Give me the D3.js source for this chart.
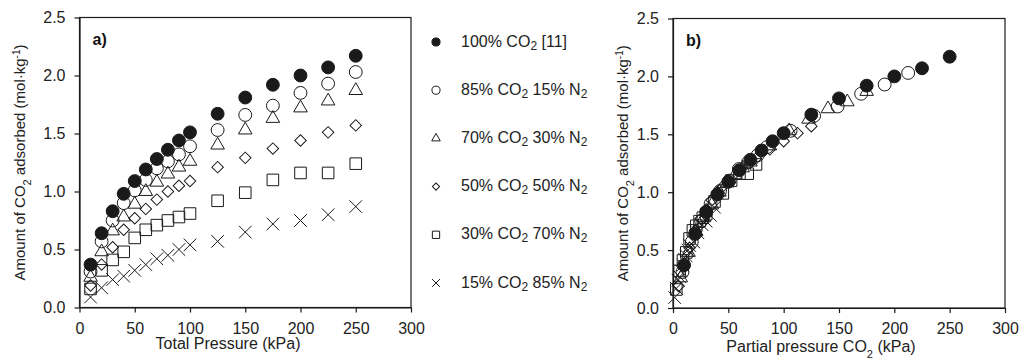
<!DOCTYPE html>
<html>
<head>
<meta charset="utf-8">
<script src="https://cdn.jsdelivr.net/npm/d3@7"></script>
<style>
  body { margin: 0; background: #fff; }
  svg { display: block; font-family: "Liberation Sans", Arial, sans-serif; }
  .axis text { font-size: 16px; fill: #222; }
  .axis path, .axis line { stroke: #1a1a1a; stroke-width: 1.2; }
</style>
</head>
<body>
<div id="chart"></div>
<script>
// Data
const pressure = [10, 20, 30, 40, 50, 60, 70, 80, 90, 100, 125, 150, 175, 200, 225, 250];
const co2Fraction = [1.00, 0.85, 0.70, 0.50, 0.30, 0.15];
const uptake100 = [0.37, 0.64, 0.83, 0.98, 1.09, 1.19, 1.28, 1.36, 1.44, 1.51, 1.67, 1.81, 1.92, 2.00, 2.07, 2.17];
const uptake85 = [0.31, 0.57, 0.75, 0.90, 1.01, 1.10, 1.20, 1.26, 1.32, 1.39, 1.53, 1.66, 1.74, 1.85, 1.93, 2.03];
const uptake70 = [0.26, 0.48, 0.66, 0.78, 0.89, 1.00, 1.08, 1.15, 1.21, 1.26, 1.40, 1.53, 1.63, 1.72, 1.78, 1.87];
const uptake50 = [0.19, 0.37, 0.52, 0.67, 0.77, 0.85, 0.93, 1.00, 1.05, 1.09, 1.21, 1.29, 1.37, 1.44, 1.51, 1.57];
const uptake30 = [0.16, 0.32, 0.41, 0.48, 0.60, 0.67, 0.71, 0.75, 0.78, 0.81, 0.92, 0.99, 1.10, 1.16, 1.16, 1.24];
const uptake15 = [0.09, 0.17, 0.24, 0.27, 0.32, 0.37, 0.42, 0.45, 0.50, 0.54, 0.57, 0.65, 0.72, 0.75, 0.80, 0.87];
const seriesValues = [uptake100, uptake85, uptake70, uptake50, uptake30, uptake15];
const legendLabels = [
    ['100% CO', '2', ' [11]', ''],
    ['85% CO', '2', ' 15% N', '2'],
    ['70% CO', '2', ' 30% N', '2'],
    ['50% CO', '2', ' 50% N', '2'],
    ['30% CO', '2', ' 70% N', '2'],
    ['15% CO', '2', ' 85% N', '2']
];
const markerKinds = ['filled', 'circle', 'triangle', 'diamond', 'square', 'cross'];
const xTicks = [0, 50, 100, 150, 200, 250, 300];
const yTicks = [0, 0.5, 1.0, 1.5, 2.0, 2.5];

const width = 1022, height = 363;
const ink = '#1a1a1a';

const svg = d3.select('#chart').append('svg')
    .attr('width', width)
    .attr('height', height);

// marker path for a given kind, scaled by k
function markerPath(kind, k) {
    const s = k || 1;
    if (kind === 'filled' || kind === 'circle') return d3.symbol(d3.symbolCircle, 130 * s * s)();
    if (kind === 'triangle') return d3.symbol(d3.symbolTriangle, 80 * s * s)();
    if (kind === 'diamond') return d3.symbol(d3.symbolSquare, 66 * s * s)();
    if (kind === 'square') return d3.symbol(d3.symbolSquare, 134 * s * s)();
    return d3.symbol(d3.symbolTimes, 105 * s * s)();
}

function drawMarkers(g, pts, kind, k) {
    g.selectAll(null)
        .data(pts)
        .enter()
        .append('path')
        .attr('d', markerPath(kind, k))
        .attr('transform', d => `translate(${d[0]},${d[1]})` + (kind === 'diamond' ? ' rotate(45)' : ''))
        .attr('fill', kind === 'filled' ? ink : 'none')
        .attr('stroke', ink)
        .attr('stroke-width', 1);
}

function drawPanel(cfg) {
    const x = d3.scaleLinear().domain([0, 300]).range([cfg.left, cfg.right]);
    const y = d3.scaleLinear().domain([0, 2.5]).range([cfg.bottom, cfg.top]);

    svg.append('g')
        .attr('class', 'axis')
        .attr('transform', `translate(0,${cfg.bottom})`)
        .call(d3.axisBottom(x).tickValues(xTicks).tickSize(5).tickSizeOuter(0).tickPadding(10));

    svg.append('g')
        .attr('class', 'axis')
        .attr('transform', `translate(${cfg.left},0)`)
        .call(d3.axisLeft(y).tickValues(yTicks).tickFormat(d3.format('.1f')).tickSize(5).tickSizeOuter(0).tickPadding(9));

    // frame
    svg.append('rect')
        .attr('x', cfg.left)
        .attr('y', cfg.top)
        .attr('width', cfg.right - cfg.left)
        .attr('height', cfg.bottom - cfg.top)
        .attr('fill', 'none')
        .attr('stroke', ink)
        .attr('stroke-width', 1.2);

    // panel tag
    svg.append('text')
        .attr('x', cfg.left + 13)
        .attr('y', cfg.top + 27)
        .style('font-size', '16px')
        .style('font-weight', 'bold')
        .style('fill', '#111')
        .text(cfg.tag);

    // markers, last series first so filled circles sit on top
    const plot = svg.append('g');
    for (let i = seriesValues.length - 1; i >= 0; i--) {
        const pts = pressure.map((p, j) => [x(cfg.partial ? p * co2Fraction[i] : p), y(seriesValues[i][j])]);
        drawMarkers(plot.append('g'), pts, markerKinds[i], 1);
    }

    // x title
    const xt = svg.append('text')
        .attr('x', cfg.xTitleX)
        .attr('y', cfg.xTitleY)
        .attr('text-anchor', 'middle')
        .style('font-size', '16px')
        .style('fill', '#222');
    cfg.xTitle.forEach(part => {
        xt.append('tspan')
            .attr('baseline-shift', part[1] ? 'sub' : null)
            .style('font-size', part[1] ? '11px' : null)
            .text(part[0]);
    });

    // y title
    const yt = svg.append('text')
        .attr('transform', `translate(${cfg.yTitleX},${(cfg.top + cfg.bottom) / 2}) rotate(-90)`)
        .attr('text-anchor', 'middle')
        .style('font-size', '15px')
        .style('fill', '#222');
    yt.append('tspan').text('Amount of CO');
    yt.append('tspan').attr('baseline-shift', 'sub').style('font-size', '11px').text('2');
    yt.append('tspan').text(' adsorbed (mol·kg');
    yt.append('tspan').attr('baseline-shift', 'super').style('font-size', '10px').text('-1');
    yt.append('tspan').text(')');
}

drawPanel({
    left: 79.5, right: 411, top: 17.5, bottom: 307.5, tag: 'a)',
    partial: false, xTitleX: 228, xTitleY: 349, yTitleX: 25,
    xTitle: [['Total Pressure (kPa)', false]]
});

drawPanel({
    left: 673, right: 1005, top: 18.5, bottom: 308, tag: 'b)',
    partial: true, xTitleX: 821, xTitleY: 352, yTitleX: 628,
    xTitle: [['Partial pressure CO', false], ['2', true], [' (kPa)', false]]
});

// legend
const legend = svg.append('g');
legendLabels.forEach((lab, i) => {
    const ly = 42 + i * 48.2;
    drawMarkers(legend.append('g'), [[436, ly]], markerKinds[i], 0.63);
    const t = legend.append('text')
        .attr('x', 461)
        .attr('y', ly + 4.5)
        .style('font-size', '16px')
        .style('fill', '#222');
    t.append('tspan').text(lab[0]);
    t.append('tspan').attr('dy', 3).style('font-size', '12px').text(lab[1]);
    t.append('tspan').attr('dy', -3).text(lab[2]);
    if (lab[3]) t.append('tspan').attr('dy', 3).style('font-size', '12px').text(lab[3]);
});
</script>
</body>
</html>
